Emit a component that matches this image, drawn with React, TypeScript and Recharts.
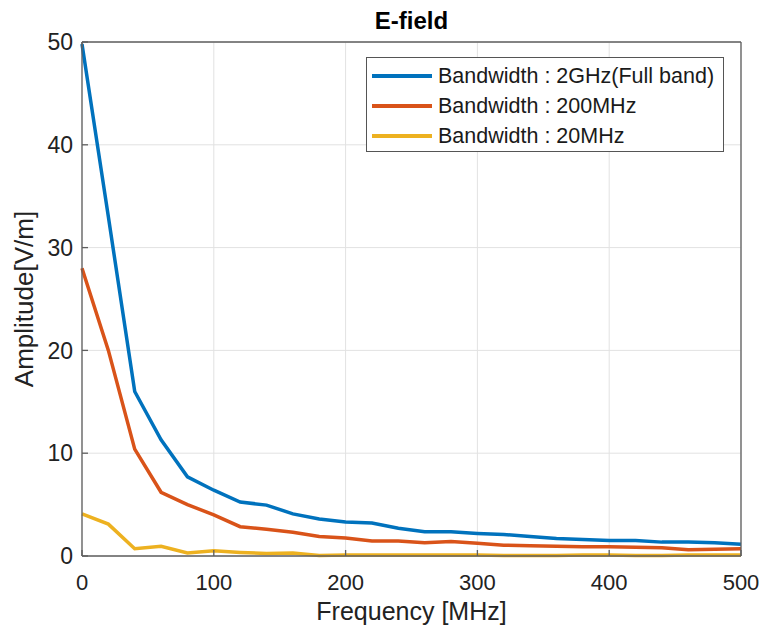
import { LineChart, Line, XAxis, YAxis, CartesianGrid, Legend } from "recharts";

// frequency samples [MHz]
const freq = [
  0, 20, 40, 60, 80, 100, 120, 140, 160, 180, 200, 220, 240, 260, 280, 300,
  320, 340, 360, 380, 400, 420, 440, 460, 480, 500,
];

// E-field amplitude [V/m] per bandwidth
const fullBand = [
  49.8, 33, 16, 11.3, 7.7, 6.4, 5.25, 4.95, 4.1, 3.6, 3.3, 3.2, 2.7, 2.35,
  2.35, 2.2, 2.1, 1.9, 1.7, 1.6, 1.5, 1.5, 1.35, 1.35, 1.3, 1.15,
];
const bw200 = [
  28, 20, 10.4, 6.2, 5.0, 4.0, 2.85, 2.6, 2.3, 1.9, 1.75, 1.45, 1.45, 1.3,
  1.4, 1.25, 1.05, 1.0, 0.95, 0.9, 0.9, 0.85, 0.8, 0.6, 0.65, 0.7,
];
const bw20 = [
  4.1, 3.1, 0.7, 0.95, 0.3, 0.5, 0.35, 0.25, 0.3, 0.05, 0.1, 0.1, 0.1, 0.1,
  0.1, 0.1, 0.05, 0.05, 0.05, 0.1, 0.1, 0.05, 0.05, 0.1, 0.1, 0.1,
];

const xTicks = [0, 100, 200, 300, 400, 500];
const yTicks = [0, 10, 20, 30, 40, 50];

const SERIES = [
  { key: "full", name: "Bandwidth : 2GHz(Full band)", color: "#0072BD", values: fullBand },
  { key: "bw200", name: "Bandwidth : 200MHz", color: "#D95319", values: bw200 },
  { key: "bw20", name: "Bandwidth : 20MHz", color: "#EDB120", values: bw20 },
];

const FONT = "'Liberation Sans', Arial, sans-serif";
const AXIS = "#5f5f5f";
const noLabel = () => <g />;

// keep legend entries in plotting order
const seriesIndex = (name: string) => SERIES.findIndex((s) => s.name === name);

const LegendBox = ({ payload }: any) => {
  const items = [...(payload ?? [])].sort(
    (a: any, b: any) => seriesIndex(a.value) - seriesIndex(b.value)
  );
  return (
    <div
      style={{
        border: "1px solid #555",
        background: "#fff",
        boxSizing: "border-box",
        width: "100%",
        height: "100%",
        paddingTop: 3,
        fontFamily: FONT,
        fontSize: 21.5,
        color: "#1a1a1a",
      }}
    >
      {items.map((p: any) => (
        <div key={p.value} style={{ display: "flex", alignItems: "center", height: 30 }}>
          <span
            style={{
              display: "inline-block",
              width: 60,
              height: 3.5,
              marginLeft: 5,
              marginRight: 6,
              background: p.color,
            }}
          />
          <span style={{ whiteSpace: "nowrap" }}>{p.value}</span>
        </div>
      ))}
    </div>
  );
};

export default function App() {
  const data = freq.map((f, i) => {
    const row: Record<string, number> = { freq: f };
    SERIES.forEach((s) => (row[s.key] = s.values[i]));
    return row;
  });

  return (
    <div style={{ position: "absolute", left: 0, top: 0, background: "#fff" }}>
      <LineChart
        width={763}
        height={633}
        data={data}
        margin={{ top: 0, right: 0, bottom: 0, left: 0 }}
        style={{ fontFamily: FONT }}
      >
        <CartesianGrid stroke="#e2e2e2" strokeWidth={1} />
        <XAxis
          dataKey="freq"
          type="number"
          domain={[0, 500]}
          ticks={xTicks}
          height={77}
          stroke={AXIS}
          strokeWidth={1.3}
          tickSize={-6}
          tickMargin={24}
          tick={{ fill: "#222", fontSize: 22 }}
          label={{
            value: "Frequency [MHz]",
            position: "insideBottom",
            offset: 13,
            fill: "#222",
            fontSize: 25,
          }}
        />
        <XAxis
          xAxisId="top"
          orientation="top"
          type="number"
          domain={[0, 500]}
          ticks={xTicks}
          height={42}
          stroke={AXIS}
          strokeWidth={1.3}
          tickSize={-6}
          tick={noLabel}
          label={{
            value: "E-field",
            position: "insideTop",
            offset: 12,
            fill: "#000",
            fontSize: 24,
            fontWeight: "bold",
          }}
        />
        <YAxis
          type="number"
          domain={[0, 50]}
          ticks={yTicks}
          width={82}
          stroke={AXIS}
          strokeWidth={1.3}
          tickSize={-6}
          tickMargin={15}
          tick={{ fill: "#222", fontSize: 23 }}
          label={{
            value: "Amplitude[V/m]",
            angle: -90,
            position: "insideLeft",
            offset: 24,
            fill: "#222",
            fontSize: 26,
            style: { textAnchor: "middle" },
          }}
        />
        <YAxis
          yAxisId="right"
          orientation="right"
          type="number"
          domain={[0, 50]}
          ticks={yTicks}
          width={22}
          stroke={AXIS}
          strokeWidth={1.3}
          tickSize={-6}
          tick={noLabel}
        />
        <Legend
          layout="horizontal"
          verticalAlign="middle"
          align="center"
          content={<LegendBox />}
          wrapperStyle={{ left: 366, top: 57, width: 358, height: 95 }}
        />
        {SERIES.map((s) => (
          <Line
            key={s.key}
            dataKey={s.key}
            name={s.name}
            type="linear"
            stroke={s.color}
            strokeWidth={3.5}
            dot={false}
            isAnimationActive={false}
          />
        ))}
      </LineChart>
    </div>
  );
}
